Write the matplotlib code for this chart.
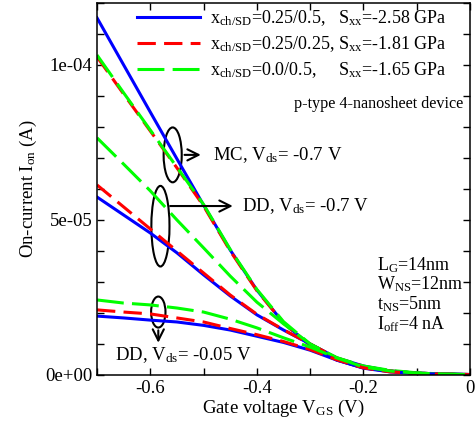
import matplotlib
matplotlib.use("Agg")
import matplotlib.pyplot as plt
from matplotlib.patches import Ellipse
from matplotlib.ticker import MultipleLocator, FuncFormatter

plt.rcParams['font.family'] = ['Liberation Serif', 'DejaVu Serif']
plt.rcParams['mathtext.default'] = 'regular'

# gate voltage grid (V)
vgs = [-0.7, -0.65, -0.6, -0.55, -0.5, -0.45, -0.4, -0.35, -0.3,
       -0.25, -0.2, -0.15, -0.1, -0.05, 0.0]

# MC, Vds = -0.7 V
mc_a = [1.152e-4, 1.0e-4, 8.48e-5, 6.97e-5, 5.48e-5, 4.03e-5, 2.74e-5, 1.68e-5,
        9.6e-6, 4.8e-6, 2.3e-6, 1.2e-6, 6e-7, 3e-7, 1.5e-7]
mc_b = [1.026e-4, 9.06e-5, 7.87e-5, 6.68e-5, 5.45e-5, 4.0e-5, 2.72e-5, 1.68e-5,
        9.6e-6, 4.9e-6, 2.3e-6, 1.2e-6, 6e-7, 3e-7, 1.5e-7]
mc_c = [1.032e-4, 9.1e-5, 7.9e-5, 6.7e-5, 5.5e-5, 4.05e-5, 2.76e-5, 1.72e-5,
        1.0e-5, 5.4e-6, 2.7e-6, 1.3e-6, 6e-7, 3e-7, 1.5e-7]

# DD, Vds = -0.7 V
dd_a = [5.74e-5, 5.16e-5, 4.58e-5, 3.94e-5, 3.23e-5, 2.55e-5, 1.94e-5, 1.45e-5,
        1.0e-5, 5.5e-6, 2.9e-6, 1.3e-6, 6e-7, 3e-7, 1.5e-7]
dd_b = [6.13e-5, 5.42e-5, 4.71e-5, 4.0e-5, 3.29e-5, 2.58e-5, 1.96e-5, 1.46e-5,
        1.0e-5, 5.5e-6, 2.8e-6, 1.3e-6, 6e-7, 3e-7, 1.5e-7]
dd_c = [7.65e-5, 6.8e-5, 5.94e-5, 5.0e-5, 4.1e-5, 3.19e-5, 2.35e-5, 1.65e-5,
        1.0e-5, 5.6e-6, 2.9e-6, 1.5e-6, 7e-7, 3e-7, 1.5e-7]

# DD, Vds = -0.05 V
lo_a = [1.9e-5, 1.84e-5, 1.77e-5, 1.71e-5, 1.6e-5, 1.45e-5, 1.25e-5, 1.05e-5,
        8.0e-6, 4.8e-6, 2.2e-6, 1.0e-6, 5e-7, 2.5e-7, 1e-7]
lo_b = [2.1e-5, 2.03e-5, 1.97e-5, 1.84e-5, 1.71e-5, 1.5e-5, 1.3e-5, 1.08e-5,
        8.2e-6, 4.9e-6, 2.3e-6, 1.0e-6, 5e-7, 2.5e-7, 1e-7]
lo_c = [2.42e-5, 2.32e-5, 2.26e-5, 2.16e-5, 2.03e-5, 1.8e-5, 1.52e-5, 1.2e-5,
        9.0e-6, 5.5e-6, 2.6e-6, 1.3e-6, 6e-7, 3e-7, 1e-7]

labels = [r'x$_{ch/SD}$=0.25/0.5,   S$_{xx}$=-2.58 GPa',
          r'x$_{ch/SD}$=0.25/0.25, S$_{xx}$=-1.81 GPa',
          r'x$_{ch/SD}$=0.0/0.5,     S$_{xx}$=-1.65 GPa']

fig = plt.figure(figsize=(4.77, 4.24), dpi=100)
ax = fig.add_axes([0.2034, 0.1156, 0.7819, 0.8774])

lw = 2.2
sty = [dict(color='#0000ff', lw=lw, ls='-'),
       dict(color='#ff0000', lw=lw, dashes=(6, 2.7)),
       dict(color='#00ff00', lw=lw, dashes=(8.8, 2.7))]

for grp in [(mc_a, mc_b, mc_c), (dd_a, dd_b, dd_c), (lo_a, lo_b, lo_c)]:
    for k, ys in enumerate(grp):
        ax.plot(vgs, ys, **sty[k])

# legend handles
hs = [ax.plot([], [], **sty[k], label=labels[k])[0] for k in range(3)]
ax.legend(handles=hs, loc='upper left', frameon=False, fontsize=13,
          handlelength=3.5, handletextpad=0.55, labelspacing=0.33,
          borderpad=0, borderaxespad=0, bbox_to_anchor=(0.107, 0.985))

ax.set_xlim(-0.7, 0)
ax.set_ylim(0, 1.2e-4)
ax.xaxis.set_major_locator(MultipleLocator(0.2))
ax.xaxis.set_minor_locator(MultipleLocator(0.1))
ax.yaxis.set_major_locator(MultipleLocator(5e-5))
ax.yaxis.set_minor_locator(MultipleLocator(1e-5))
ax.xaxis.set_major_formatter(FuncFormatter(lambda v, p: '0' if abs(v) < 1e-9 else f'{v:.1f}'))
ax.yaxis.set_major_formatter(FuncFormatter(lambda v, p: f'{v:.0e}'))
ax.tick_params(which='both', direction='in', top=True, right=True,
               length=5, width=1.0, labelsize=13.5)
for s in ax.spines.values():
    s.set_linewidth(1.1)

ax.set_xlabel(r'Gate voltage V$_{GS}$ (V)', fontsize=13.5, labelpad=1)
ax.set_ylabel(r'On-current I$_{on}$ (A)', fontsize=13.5, labelpad=4)

# annotations
ax.add_patch(Ellipse((-0.558, 7.1e-5), 0.034, 1.77e-5, fill=False, lw=1.5, color='k'))
ax.annotate('', xy=(-0.5, 7.1e-5), xytext=(-0.541, 7.1e-5),
            arrowprops=dict(arrowstyle='->', lw=1.5, mutation_scale=20))
ax.text(-0.483, 7.1e-5, r'MC, V$_{ds}$= -0.7 V', fontsize=13.5, va='center')

ax.add_patch(Ellipse((-0.581, 4.8e-5), 0.034, 2.6e-5, fill=False, lw=1.5, color='k'))
ax.annotate('', xy=(-0.44, 5.45e-5), xytext=(-0.568, 5.45e-5),
            arrowprops=dict(arrowstyle='->', lw=1.5, mutation_scale=20))
ax.text(-0.427, 5.45e-5, r'DD, V$_{ds}$= -0.7 V', fontsize=13.5, va='center')

ax.add_patch(Ellipse((-0.585, 2.03e-5), 0.027, 1.0e-5, fill=False, lw=1.5, color='k'))
ax.annotate('', xy=(-0.585, 9.5e-6), xytext=(-0.585, 1.53e-5),
            arrowprops=dict(arrowstyle='->', lw=1.5, mutation_scale=20))
ax.text(-0.667, 6.5e-6, r'DD, V$_{ds}$= -0.05 V', fontsize=13.5, va='center')

ax.text(-0.012, 8.75e-5, 'p-type 4-nanosheet device', fontsize=11.6, ha='right', va='center')
ax.text(-0.175, 2.6e-5, 'L$_G$=14nm\nW$_{NS}$=12nm\nt$_{NS}$=5nm\nI$_{off}$=4 nA',
        fontsize=13, va='center', linespacing=1.0)

fig.savefig('out.png', dpi=100)
